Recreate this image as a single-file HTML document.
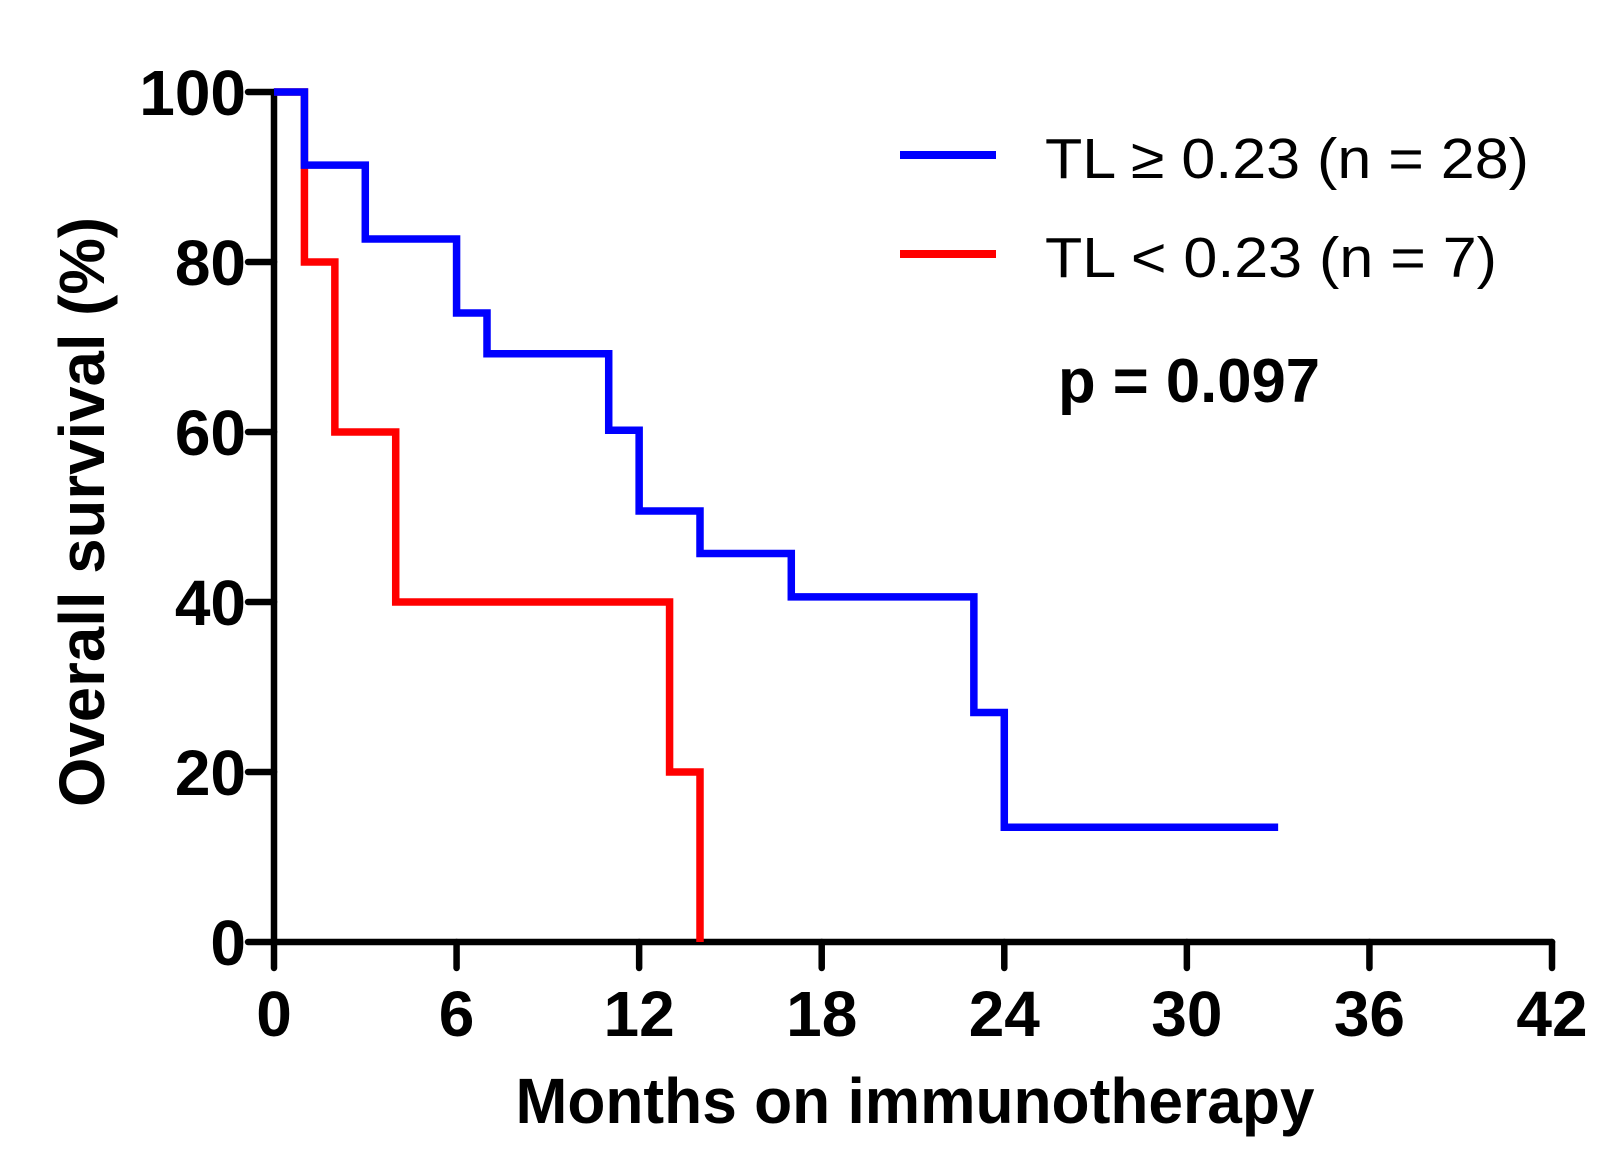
<!DOCTYPE html>
<html><head><meta charset="utf-8"><style>
html,body{margin:0;padding:0;background:#fff;}
svg{display:block;}
text{font-family:"Liberation Sans",Arial,sans-serif;}
</style></head><body>
<svg id="chart" width="1623" height="1174" viewBox="0 0 1623 1174" xmlns="http://www.w3.org/2000/svg">
<g id="axes"></g>
<g id="series"></g>
<g>
  <line x1="900" y1="155" x2="996" y2="155" stroke="#0000ff" stroke-width="8"/>
  <text x="1045" y="178" font-size="57" textLength="484" lengthAdjust="spacingAndGlyphs">TL ≥ 0.23 (n = 28)</text>
  <line x1="900" y1="254" x2="996" y2="254" stroke="#ff0000" stroke-width="8"/>
  <text x="1045" y="277" font-size="57" textLength="452" lengthAdjust="spacingAndGlyphs">TL &lt; 0.23 (n = 7)</text>
</g>
<text x="1058" y="402" font-size="62" font-weight="bold" textLength="262" lengthAdjust="spacingAndGlyphs">p = 0.097</text>
<text x="915" y="1123" font-size="64" font-weight="bold" text-anchor="middle" textLength="799" lengthAdjust="spacingAndGlyphs">Months on immunotherapy</text>
<text transform="translate(104,512) rotate(-90)" x="0" y="0" font-size="64" font-weight="bold" text-anchor="middle" textLength="590" lengthAdjust="spacingAndGlyphs">Overall survival (%)</text>
</svg>
<script>
const xTicks = [0, 6, 12, 18, 24, 30, 36, 42];
const yTicks = [0, 20, 40, 60, 80, 100];
const highTimes = [0, 1, 3, 6, 7, 11, 12, 14, 17, 23, 24, 33];
const highSurv = [100, 91.4, 82.7, 74.0, 69.2, 60.2, 50.7, 45.7, 40.6, 27.0, 13.5, 13.5];
const lowTimes = [0, 1, 2, 4, 13, 14];
const lowSurv = [100, 80, 60, 40, 20, 0];

const NS = "http://www.w3.org/2000/svg";
const X0 = 274, X1 = 1552, Y0 = 942, Y1 = 92;
const xs = v => X0 + (v - 0) / 42 * (X1 - X0);
const ys = v => Y0 - v / 100 * (Y0 - Y1);
const axes = document.getElementById('axes');
const series = document.getElementById('series');
function mk(tag, attrs, parent) {
  const e = document.createElementNS(NS, tag);
  for (const k in attrs) e.setAttribute(k, attrs[k]);
  parent.appendChild(e);
  return e;
}
const xAxis = mk('line', {x1: X0, y1: Y0, x2: X1, y2: Y0, stroke: '#000', 'stroke-width': 6.5, 'stroke-linecap': 'round'}, axes);


const yAxis = mk('line', {x1: X0, y1: Y0, x2: X0, y2: Y1, stroke: '#000', 'stroke-width': 6.5, 'stroke-linecap': 'round'}, axes);


xTicks.forEach(t => {
  const x = xs(t);
  const tk = mk('line', {x1: x, y1: Y0, x2: x, y2: Y0 + 26, stroke: '#000', 'stroke-width': 6.5, 'stroke-linecap': 'round'}, axes);
  
  
  const lb = mk('text', {x: x, y: 1036, 'font-size': 64, 'font-weight': 'bold', 'text-anchor': 'middle'}, axes);
  lb.textContent = t;
  
  
});
yTicks.forEach(t => {
  const y = ys(t);
  const tk = mk('line', {x1: X0 - 26, y1: y, x2: X0, y2: y, stroke: '#000', 'stroke-width': 6.5, 'stroke-linecap': 'round'}, axes);
  
  
  const lb = mk('text', {x: 246, y: y + 23, 'font-size': 64, 'font-weight': 'bold', 'text-anchor': 'end'}, axes);
  lb.textContent = t;
  
  
});
function stepPath(times, surv) {
  let d = 'M' + xs(times[0]) + ' ' + ys(surv[0]);
  for (let i = 1; i < times.length; i++) {
    d += ' H' + xs(times[i]) + ' V' + ys(surv[i]);
  }
  return d;
}
const low = mk('path', {d: stepPath(lowTimes, lowSurv), fill: 'none', stroke: '#ff0000', 'stroke-width': 7.5, 'stroke-linejoin': 'miter'}, series);


const high = mk('path', {d: stepPath(highTimes, highSurv), fill: 'none', stroke: '#0000ff', 'stroke-width': 7.5, 'stroke-linejoin': 'miter'}, series);


</script>
</body></html>
